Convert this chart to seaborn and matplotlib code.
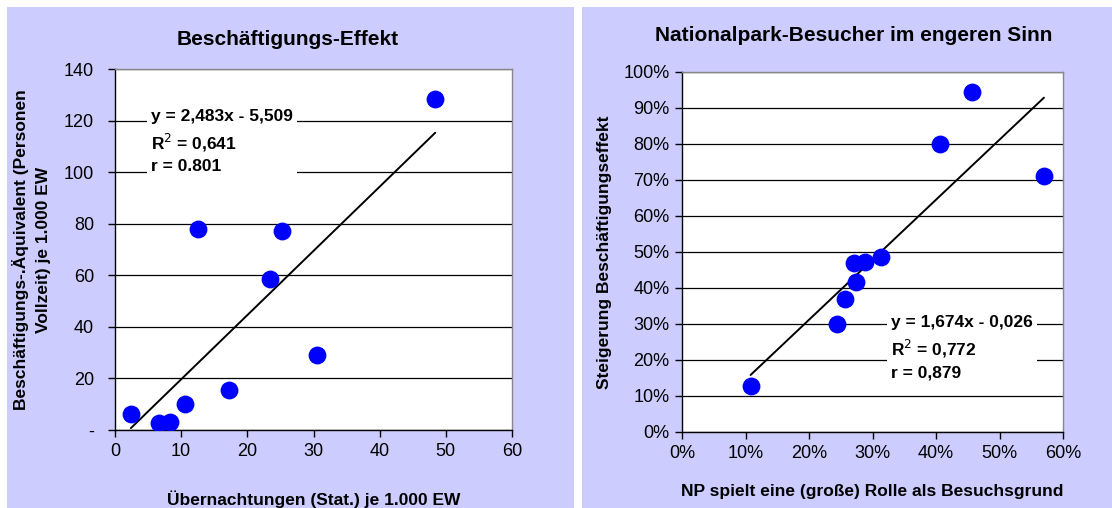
import numpy as np
import pandas as pd
import matplotlib
matplotlib.use("Agg")
import matplotlib.pyplot as plt
import matplotlib.ticker as mticker
from matplotlib.patches import Rectangle
import seaborn as sns

# %% data
naechte = [2.4, 6.7, 8.3, 10.6, 12.5, 17.2, 23.4, 25.2, 30.5, 48.4]
beschaeft = [6.1, 2.6, 3.2, 10.0, 78.1, 15.4, 58.6, 77.2, 29.0, 128.5]

np_rolle = [0.108, 0.244, 0.256, 0.271, 0.274, 0.288, 0.314, 0.407, 0.457, 0.570]
steigerung = [0.127, 0.300, 0.370, 0.470, 0.418, 0.473, 0.485, 0.801, 0.945, 0.711]

eq_left = "y = 2,483x - 5,509\nR$^2$ = 0,641\nr = 0.801"
eq_right = "y = 1,674x - 0,026\nR$^2$ = 0,772\nr = 0,879"

df1 = pd.DataFrame({"x": naechte, "y": beschaeft})
df2 = pd.DataFrame({"x": np_rolle, "y": steigerung})

# %%
sns.set_theme(style="white", rc={"text.color": "black", "axes.labelcolor": "black",
                                 "xtick.color": "black", "ytick.color": "black"})
plt.rcParams["font.family"] = ["Liberation Sans", "DejaVu Sans"]

lavender = "#CCCCFF"
fig = plt.figure(figsize=(11.12, 5.08), dpi=100)
fig.patches.append(Rectangle((7/1112, 0), 567/1112, 501/508, transform=fig.transFigure,
                             facecolor=lavender, edgecolor="none", zorder=-10))
fig.patches.append(Rectangle((582/1112, 0), 530/1112, 501/508, transform=fig.transFigure,
                             facecolor=lavender, edgecolor="none", zorder=-10))

ax1 = fig.add_axes([115/1112, 78/508, 397/1112, 361/508])
ax2 = fig.add_axes([682/1112, 76/508, 381/1112, 360/508])

fs_tick = 13
fs_lab = 12.5
fs_title = 15


def style_axes(ax):
    ax.set_facecolor("white")
    ax.grid(axis="y", color="black", lw=0.9)
    ax.grid(axis="x", visible=False)
    ax.set_axisbelow(True)
    for s in ["top", "right"]:
        ax.spines[s].set_color("#888888")
        ax.spines[s].set_linewidth(1.0)
    for s in ["left", "bottom"]:
        ax.spines[s].set_color("black")
        ax.spines[s].set_linewidth(1.0)
    ax.tick_params(axis="both", direction="out", length=5, width=1, color="black",
                   labelsize=fs_tick, bottom=True, left=True, pad=4)


# %% left chart
sns.regplot(data=df1, x="x", y="y", ax=ax1, ci=None, color="#0000FF",
            scatter_kws=dict(s=165, alpha=1, linewidths=0, zorder=3),
            line_kws=dict(color="black", lw=1.4, zorder=2))
style_axes(ax1)
ax1.tick_params(axis="y", pad=10)
ax1.set_xlim(0, 60)
ax1.set_ylim(0, 140)
ax1.set_xticks(range(0, 61, 10))
ax1.set_yticks(range(0, 141, 20))
ax1.yaxis.set_major_formatter(mticker.FuncFormatter(lambda v, p: "-" if v == 0 else f"{v:.0f}"))
ax1.set_title("Beschäftigungs-Effekt", fontsize=fs_title, fontweight="bold", pad=17)
ax1.title.set_x(0.436)
ax1.set_xlabel("Übernachtungen (Stat.) je 1.000 EW", fontsize=fs_lab, fontweight="bold", labelpad=22)
ax1.set_ylabel("Beschäftigungs-.Äquivalent (Personen\nVollzeit) je 1.000 EW", fontsize=fs_lab,
               fontweight="bold", labelpad=9, linespacing=1.6)
ax1.text(0.09, 0.89, eq_left, transform=ax1.transAxes, fontsize=fs_lab, fontweight="bold",
         va="top", ha="left", linespacing=1.45,
         bbox=dict(facecolor="white", edgecolor="none", pad=3))

# %% right chart
sns.regplot(data=df2, x="x", y="y", ax=ax2, ci=None, color="#0000FF",
            scatter_kws=dict(s=165, alpha=1, linewidths=0, zorder=3),
            line_kws=dict(color="black", lw=1.4, zorder=2))
style_axes(ax2)
ax2.set_xlim(0, 0.6)
ax2.set_ylim(0, 1.0)
ax2.set_xticks(np.arange(0, 0.61, 0.1))
ax2.set_yticks(np.arange(0, 1.01, 0.1))
ax2.xaxis.set_major_formatter(mticker.PercentFormatter(1.0, decimals=0))
ax2.yaxis.set_major_formatter(mticker.PercentFormatter(1.0, decimals=0))
ax2.set_title("Nationalpark-Besucher im engeren Sinn", fontsize=fs_title, fontweight="bold", pad=22)
ax2.title.set_x(0.451)
ax2.set_xlabel("NP spielt eine (große) Rolle als Besuchsgrund", fontsize=fs_lab, fontweight="bold",
               labelpad=16)
ax2.set_ylabel("Steigerung Beschäftigungseffekt", fontsize=fs_lab, fontweight="bold", labelpad=8)
ax2.text(0.549, 0.325, eq_right, transform=ax2.transAxes, fontsize=fs_lab, fontweight="bold",
         va="top", ha="left", linespacing=1.45,
         bbox=dict(facecolor="white", edgecolor="none", pad=3))

fig.savefig("out.png", dpi=100)
